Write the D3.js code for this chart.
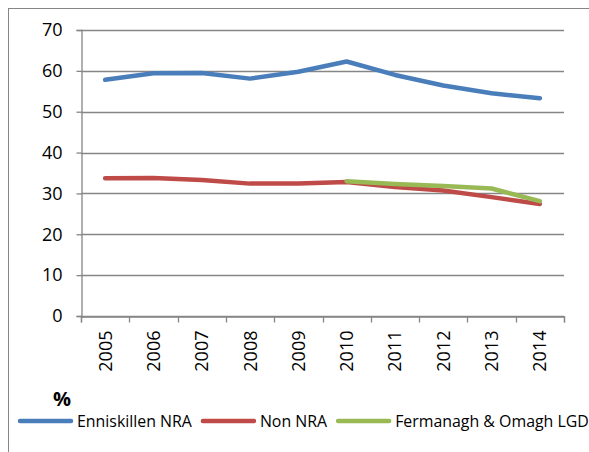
<!DOCTYPE html>
<html>
<head>
<meta charset="utf-8">
<script src="https://cdn.jsdelivr.net/npm/d3@7"></script>
<style>
  body { margin: 0; background: #fff; }
  svg { display: block; font-family: "Open Sans", "Noto Sans", sans-serif; }
</style>
</head>
<body>
<div id="container"></div>
<script>
const width = 589;
const height = 452;

const years = ["2005", "2006", "2007", "2008", "2009", "2010", "2011", "2012", "2013", "2014"];
const enniskillen = [57.8, 59.4, 59.5, 58.1, 59.8, 62.3, 59.0, 56.4, 54.5, 53.3];
const nonNra = [33.7, 33.8, 33.3, 32.4, 32.4, 32.8, 31.6, 30.7, 29.1, 27.4];
const fermanagh = [null, null, null, null, null, 33.0, 32.3, 31.8, 31.2, 28.1];
const yTicks = [0, 10, 20, 30, 40, 50, 60, 70];

const seriesNames = ["Enniskillen NRA", "Non NRA", "Fermanagh & Omagh LGD"];
const colours = ["#4a7ebb", "#be4b48", "#98b954"];

const svg = d3.select("div#container").append("svg")
    .attr("width", width)
    .attr("height", height);

// outer chart border (runs off the right and bottom edge)
svg.append("rect")
    .attr("x", 8.5).attr("y", 8.5)
    .attr("width", 700).attr("height", 700)
    .attr("fill", "none")
    .attr("stroke", "#868686");

const xScale = d3.scaleBand().domain(years).range([81, 564]);
const yScale = d3.scaleLinear().domain([0, 70]).range([316, 30]);

// gridlines
svg.append("g")
    .selectAll("line")
    .data(yTicks)
    .enter().append("line")
    .attr("x1", 81).attr("x2", 564)
    .attr("y1", d => Math.round(yScale(d)) + 0.5)
    .attr("y2", d => Math.round(yScale(d)) + 0.5)
    .attr("stroke", "#868686")
    .attr("stroke-width", 1.3);

const yaxis = d3.axisLeft(yScale).tickValues(yTicks).tickSize(5).tickPadding(14);
const xaxis = d3.axisBottom(xScale).tickSize(6).tickFormat(d => d);

const gy = svg.append("g")
    .attr("transform", "translate(81.5,0)")
    .call(yaxis);
gy.selectAll("line").attr("stroke", "#868686").attr("stroke-width", 1.3);
gy.select(".domain").attr("stroke", "#868686").attr("stroke-width", 1.3);
gy.selectAll("text").attr("font-size", 18).attr("fill", "#000")
    .attr("font-family", "Open Sans");

const gx = svg.append("g")
    .attr("transform", "translate(0,316.5)")
    .call(xaxis);
// ticks sit on band edges, not centres
gx.selectAll(".tick line").remove();
gx.append("g").selectAll("line")
    .data(years.concat(["end"]))
    .enter().append("line")
    .attr("x1", (d, i) => Math.round(81 + i * xScale.bandwidth()) + 0.5)
    .attr("x2", (d, i) => Math.round(81 + i * xScale.bandwidth()) + 0.5)
    .attr("y1", 0).attr("y2", 6)
    .attr("stroke", "#868686").attr("stroke-width", 1.3);
gx.select(".domain").attr("stroke", "#868686").attr("stroke-width", 1.3);
gx.selectAll(".tick text")
    .attr("font-size", 18).attr("fill", "#000")
    .attr("font-family", "Open Sans")
    .attr("transform", "rotate(-90)")
    .attr("text-anchor", "end")
    .attr("x", -14).attr("y", 0).attr("dy", "0.36em");

const line = d3.line()
    .defined(d => d != null)
    .x((d, i) => xScale(years[i]) + xScale.bandwidth() / 2)
    .y(d => yScale(d));

[enniskillen, nonNra, fermanagh].forEach(function(values, k) {
    svg.append("path")
        .attr("d", line(values))
        .attr("fill", "none")
        .attr("stroke", colours[k])
        .attr("stroke-width", 4.5)
        .attr("stroke-linecap", "round")
        .attr("stroke-linejoin", "round");
});

// unit label
svg.append("text")
    .attr("x", 62).attr("y", 406)
    .attr("text-anchor", "middle")
    .attr("font-size", 20).attr("font-weight", "bold")
    .text("%");

// legend
let lx = 18;
seriesNames.forEach(function(name, k) {
    svg.append("line")
        .attr("x1", lx + 2).attr("x2", lx + 53)
        .attr("y1", 421).attr("y2", 421)
        .attr("stroke", colours[k])
        .attr("stroke-width", 4.5)
        .attr("stroke-linecap", "round");
    const t = svg.append("text")
        .attr("x", lx + 59).attr("y", 427)
        .attr("font-size", 15.9)
        .text(name);
    lx = lx + 59 + t.node().getComputedTextLength() + 9;
});
</script>
</body>
</html>
